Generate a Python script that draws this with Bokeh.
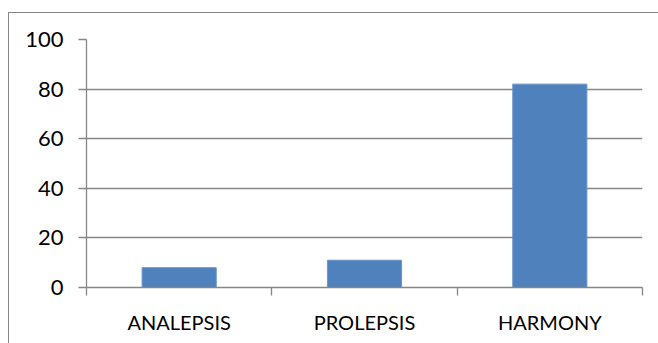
from bokeh.plotting import figure
from bokeh.models import Range1d, FixedTicker, ColumnDataSource
from bokeh.embed import file_html
from bokeh.resources import INLINE

categories = ["ANALEPSIS", "PROLEPSIS", "HARMONY"]
values = [8, 11, 82]
y_ticks = [0, 20, 40, 60, 80, 100]

GRAY = "#868686"
BLUE = "#4F81BD"
FONT = "Lato"

positions = [i + 0.5 for i in range(len(categories))]
source = ColumnDataSource(dict(x=positions, top=values, cat=categories))

p = figure(width=650, height=331, output_backend="svg", toolbar_location=None,
           x_range=Range1d(0, len(categories)), y_range=Range1d(0, 100),
           min_border_left=77, min_border_top=26, min_border_right=17, min_border_bottom=57,
           margin=(12, 0, 0, 8))
p.styles = {"border-top": f"1px solid {GRAY}", "border-left": f"1px solid {GRAY}"}
p.outline_line_color = None
p.background_fill_color = "white"
p.border_fill_color = "white"

p.vbar(x="x", top="top", width=0.4, source=source, fill_color=BLUE,
       line_color="#6a95c9", line_width=1)

# y axis
p.yaxis.ticker = FixedTicker(ticks=y_ticks)
p.yaxis.axis_line_color = GRAY
p.yaxis.axis_line_width = 1.3
p.yaxis.major_tick_line_color = GRAY
p.yaxis.major_tick_line_width = 1.3
p.yaxis.major_tick_out = 8
p.yaxis.major_tick_in = 0
p.yaxis.minor_tick_line_color = None
p.yaxis.major_label_text_font = FONT
p.yaxis.major_label_text_font_size = "22px"
p.yaxis.major_label_text_color = "black"
p.yaxis.major_label_standoff = 15

# x axis
p.xaxis.ticker = FixedTicker(ticks=positions, minor_ticks=list(range(len(categories) + 1)))
p.xaxis.major_label_overrides = {pos: c for pos, c in zip(positions, categories)}
p.xaxis.axis_line_color = GRAY
p.xaxis.axis_line_width = 1.3
p.xaxis.major_tick_line_color = None
p.xaxis.major_tick_out = 0
p.xaxis.major_tick_in = 0
p.xaxis.minor_tick_line_color = GRAY
p.xaxis.minor_tick_line_width = 1.3
p.xaxis.minor_tick_out = 8
p.xaxis.minor_tick_in = 0
p.xaxis.major_label_text_font = FONT
p.xaxis.major_label_text_font_size = "20px"
p.xaxis.major_label_text_color = "black"
p.xaxis.major_label_standoff = 14

p.xgrid.grid_line_color = None
p.ygrid.ticker = FixedTicker(ticks=y_ticks)
p.ygrid.grid_line_color = GRAY
p.ygrid.grid_line_width = 1.3
p.ygrid.grid_line_alpha = 1.0

open("out.html", "w").write(file_html(p, INLINE))
